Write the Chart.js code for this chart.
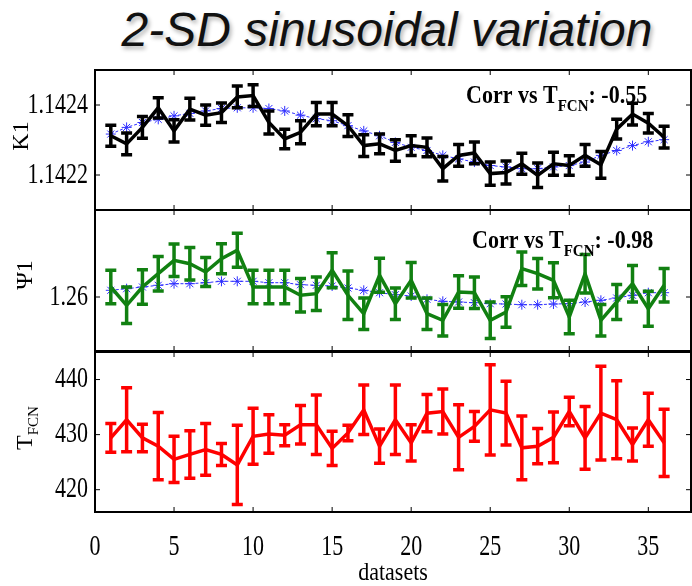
<!DOCTYPE html>
<html>
<head>
<meta charset="utf-8">
<script src="https://cdn.jsdelivr.net/npm/chart.js@4.4.1/dist/chart.umd.min.js"></script>
<style>
    body { margin: 0; background: #fff; width: 692px; height: 586px; overflow: hidden; position: relative; }
    #title {
        position: absolute; left: 0; top: 2px; width: 774px; text-align: center;
        font: italic 48px "Liberation Sans", Arial, sans-serif; color: #111;
        text-shadow: 2px 3px 4px rgba(0, 0, 0, 0.3);
    }
    .panel { position: absolute; left: 0; width: 692px; }
</style>
</head>
<body>
<div id="title">2-SD sinusoidal variation</div>
<div class="panel" style="top:60px;height:152px"><canvas id="k1Chart"></canvas></div>
<div class="panel" style="top:205px;height:150px"><canvas id="psiChart"></canvas></div>
<div class="panel" style="top:347px;height:239px"><canvas id="tfcnChart"></canvas></div>
<script>
// --- Data ---
const datasetNumbers = [1, 2, 3, 4, 5, 6, 7, 8, 9, 10, 11, 12, 13, 14, 15, 16, 17, 18,
    19, 20, 21, 22, 23, 24, 25, 26, 27, 28, 29, 30, 31, 32, 33, 34, 35, 36];
const xTicks = [0, 5, 10, 15, 20, 25, 30, 35];

const k1Values = [1.142312, 1.142289, 1.142336, 1.142392, 1.142326, 1.142388, 1.142371, 1.142378, 1.142423,
    1.142427, 1.142350, 1.142303, 1.142322, 1.142374, 1.142374, 1.142341, 1.142284, 1.142289,
    1.142270, 1.142284, 1.142279, 1.142218, 1.142256, 1.142263, 1.142204, 1.142207, 1.142232,
    1.142199, 1.142232, 1.142227, 1.142256, 1.142229, 1.142331, 1.142374, 1.142348, 1.142308];
const k1Errors = [0.000030, 0.000031, 0.000031, 0.000029, 0.000032, 0.000031, 0.000029, 0.000028, 0.000031,
    0.000031, 0.000033, 0.000028, 0.000033, 0.000033, 0.000033, 0.000031, 0.000031, 0.000028,
    0.000031, 0.000028, 0.000027, 0.000035, 0.000031, 0.000031, 0.000033, 0.000033, 0.000030,
    0.000035, 0.000033, 0.000028, 0.000031, 0.000038, 0.000028, 0.000031, 0.000028, 0.000031];
const k1Model = [1.142317, 1.142336, 1.142350, 1.142359, 1.142369, 1.142376, 1.142383, 1.142390, 1.142392,
    1.142392, 1.142390, 1.142383, 1.142371, 1.142361, 1.142355, 1.142341, 1.142326, 1.142312,
    1.142293, 1.142279, 1.142270, 1.142256, 1.142246, 1.142237, 1.142227, 1.142223, 1.142218,
    1.142218, 1.142223, 1.142227, 1.142237, 1.142256, 1.142270, 1.142284, 1.142295, 1.142301];
const k1Ticks = [1.1422, 1.1424];
const k1Corr = '-0.55';

const psiValues = [1.26100, 1.25917, 1.26100, 1.26233, 1.26367, 1.26333, 1.26250, 1.26383, 1.26467,
    1.26100, 1.26100, 1.26100, 1.26017, 1.26033, 1.26267, 1.26017, 1.25833, 1.26217,
    1.25933, 1.26167, 1.25833, 1.25767, 1.26050, 1.26043, 1.25767, 1.25850, 1.26283,
    1.26233, 1.26167, 1.25800, 1.26233, 1.25767, 1.25950, 1.26133, 1.25883, 1.26117];
const psiErrors = [0.00167, 0.00183, 0.00172, 0.00172, 0.00162, 0.00162, 0.00145, 0.00150, 0.00170,
    0.00167, 0.00167, 0.00167, 0.00167, 0.00167, 0.00175, 0.00242, 0.00158, 0.00170,
    0.00158, 0.00178, 0.00158, 0.00158, 0.00163, 0.00158, 0.00183, 0.00153, 0.00167,
    0.00153, 0.00175, 0.00167, 0.00192, 0.00158, 0.00175, 0.00183, 0.00175, 0.00167];
const psiModel = [1.26067, 1.26083, 1.26100, 1.26117, 1.26133, 1.26133, 1.26143, 1.26157, 1.26157,
    1.26157, 1.26143, 1.26143, 1.26123, 1.26117, 1.26110, 1.26090, 1.26067, 1.26043,
    1.26023, 1.26010, 1.25977, 1.25957, 1.25950, 1.25943, 1.25933, 1.25930, 1.25923,
    1.25923, 1.25930, 1.25933, 1.25950, 1.25967, 1.25990, 1.26017, 1.26043, 1.26043];
const psiTicks = [1.26];
const psiCorr = '-0.98';

const tfcnValues = [429.4, 432.7, 429.4, 427.9, 425.5, 426.4, 427.3, 426.4, 424.5,
    429.7, 430.1, 429.9, 431.8, 431.8, 427.5, 430.3, 434.5, 427.9,
    432.7, 428.5, 433.9, 434.2, 429.5, 431.5, 434.5, 433.9, 427.6,
    427.9, 429.5, 434.2, 429.4, 433.9, 432.7, 428.2, 432.7, 428.5];
const tfcnErrors = [2.6, 5.8, 2.5, 6.1, 4.2, 4.3, 4.7, 2.0, 7.2,
    5.1, 3.5, 1.9, 3.5, 5.4, 3.1, 1.4, 4.5, 3.1,
    6.3, 3.3, 3.4, 4.1, 5.9, 2.7, 8.2, 5.8, 5.8,
    3.2, 4.6, 2.6, 5.7, 8.5, 7.1, 3.0, 4.8, 6.1];
const tfcnTicks = [420, 430, 440];

const SERIF = '"Liberation Serif", "Times New Roman", serif';
const MODEL_BLUE = '#2f2fff';
const TEXT_STRETCH = 1.3;   // the exported figure has tall, narrow lettering

function toPoints(values) {
    return values.map((v, i) => ({ x: datasetNumbers[i], y: v }));
}

// text drawn a little taller than wide, like the source image
function tallText(ctx, text, x, y, size, align, sy) {
    ctx.save();
    ctx.translate(x, y);
    ctx.scale(1, sy || TEXT_STRETCH);
    ctx.font = `${size}px ${SERIF}`;
    ctx.textAlign = align;
    ctx.textBaseline = 'middle';
    ctx.fillText(text, 0, 0);
    ctx.restore();
}

// --- Plugins ---
const errorBarPlugin = {
    id: 'errorBars',
    afterDatasetsDraw(chart) {
        const { ctx, scales: { x, y } } = chart;
        chart.data.datasets.forEach(ds => {
            if (!ds.errors) return;
            ctx.save();
            ctx.strokeStyle = ds.borderColor;
            ctx.lineWidth = 3.5;
            ds.data.forEach((p, i) => {
                const px = x.getPixelForValue(p.x);
                const top = y.getPixelForValue(p.y + ds.errors[i]);
                const bot = y.getPixelForValue(p.y - ds.errors[i]);
                ctx.beginPath();
                ctx.moveTo(px, top); ctx.lineTo(px, bot);
                ctx.moveTo(px - 5.5, top); ctx.lineTo(px + 5.5, top);
                ctx.moveTo(px - 5.5, bot); ctx.lineTo(px + 5.5, bot);
                ctx.stroke();
            });
            ctx.restore();
        });
    }
};

// box round the plot with small ticks pointing inwards (matlab style) + tick labels
const framePlugin = {
    id: 'frame',
    afterDraw(chart, args, opts) {
        const { ctx, chartArea: a, scales: { x, y } } = chart;
        ctx.save();
        ctx.strokeStyle = '#000';
        ctx.fillStyle = '#000';
        ctx.lineWidth = 1;
        ctx.beginPath();
        xTicks.forEach(v => {
            const px = x.getPixelForValue(v);
            ctx.moveTo(px, a.top); ctx.lineTo(px, a.top + 5);
            ctx.moveTo(px, a.bottom); ctx.lineTo(px, a.bottom - 5);
        });
        opts.yTicks.forEach(v => {
            const py = y.getPixelForValue(v);
            ctx.moveTo(a.left, py); ctx.lineTo(a.left + 5, py);
            ctx.moveTo(a.right, py); ctx.lineTo(a.right - 5, py);
        });
        ctx.stroke();
        ctx.lineWidth = 2;
        ctx.strokeRect(a.left, a.top, a.right - a.left, a.bottom - a.top);

        opts.yTicks.forEach(v => {
            tallText(ctx, v.toFixed(opts.decimals), a.left - 7, y.getPixelForValue(v), 22, 'right');
        });
        if (opts.xLabels) {
            xTicks.forEach(v => {
                tallText(ctx, String(v), x.getPixelForValue(v), a.bottom + 35, 22, 'center');
            });
            tallText(ctx, 'datasets', (a.left + a.right) / 2, a.bottom + 61, 22, 'center', 1.15);
        }
        ctx.restore();
    }
};

function drawParts(ctx, parts, x, y) {
    // parts: [text, fontSize, baselineShift, weight]
    parts.forEach(([text, size, shift, weight]) => {
        ctx.font = `${weight || ''} ${size}px ${SERIF}`;
        ctx.fillText(text, x, y + shift);
        x += ctx.measureText(text).width;
    });
}

const labelPlugin = {
    id: 'labels',
    afterDraw(chart, args, opts) {
        const { ctx } = chart;
        ctx.save();
        ctx.fillStyle = '#000';
        ctx.textBaseline = 'alphabetic';
        // rotated y title
        ctx.save();
        ctx.translate(opts.titleX, opts.titleY);
        ctx.rotate(-Math.PI / 2);
        let w = 0;
        opts.title.forEach(([t, s]) => { ctx.font = `${s}px ${SERIF}`; w += ctx.measureText(t).width; });
        drawParts(ctx, opts.title, -w / 2, 8);
        ctx.restore();
        if (opts.corr) {
            ctx.save();
            ctx.translate(opts.corrX, opts.corrY);
            ctx.scale(1, 1.15);
            drawParts(ctx, [
                ['Corr vs T', 22, 0, 'bold'],
                ['FCN', 15, 7, 'bold'],
                [': ' + opts.corr, 22, 0, 'bold']
            ], 0, 0);
            ctx.restore();
        }
        ctx.restore();
    }
};

function makePanel(canvasId, cfg) {
    const datasets = [];
    datasets.push({
        data: toPoints(cfg.values),
        errors: cfg.errors,
        borderColor: cfg.color,
        borderWidth: 3.5,
        pointRadius: 0,
        tension: 0,
        order: 1
    });
    if (cfg.model) {
        datasets.push({
            data: toPoints(cfg.model),
            borderColor: MODEL_BLUE,
            borderWidth: 1,
            borderDash: [3, 2],
            pointStyle: 'star',
            pointRadius: 5,
            pointBorderColor: MODEL_BLUE,
            pointBorderWidth: 1,
            tension: 0,
            order: 2
        });
    }
    return new Chart(document.getElementById(canvasId), {
        type: 'line',
        data: { datasets },
        options: {
            responsive: true,
            maintainAspectRatio: false,
            animation: false,
            layout: { padding: cfg.padding, autoPadding: false },
            scales: {
                x: { type: 'linear', min: 0, max: 37.7, display: false },
                y: { min: cfg.min, max: cfg.max, display: false }
            },
            plugins: {
                legend: { display: false },
                tooltip: { enabled: false },
                frame: { yTicks: cfg.ticks, decimals: cfg.decimals, xLabels: cfg.showX },
                labels: cfg.labels
            }
        },
        plugins: [errorBarPlugin, framePlugin, labelPlugin]
    });
}

document.addEventListener('DOMContentLoaded', () => {
    makePanel('k1Chart', {
        values: k1Values, errors: k1Errors, model: k1Model, color: '#000',
        min: 1.1421, max: 1.1425, ticks: k1Ticks, decimals: 4, showX: false,
        padding: { top: 10, bottom: 2, left: 95, right: 1 },
        labels: { title: [['K1', 24, 0]], titleX: 20, titleY: 76, corr: k1Corr, corrX: 466, corrY: 43 }
    });
    makePanel('psiChart', {
        values: psiValues, errors: psiErrors, model: psiModel, color: '#118011',
        min: 1.2546, max: 1.2687, ticks: psiTicks, decimals: 2, showX: false,
        padding: { top: 5, bottom: 4, left: 95, right: 1 },
        labels: { title: [['\u03A81', 24, 0]], titleX: 24, titleY: 70, corr: psiCorr, corrX: 472, corrY: 43 }
    });
    makePanel('tfcnChart', {
        values: tfcnValues, errors: tfcnErrors, color: '#ff0000',
        min: 415.95, max: 445.0, ticks: tfcnTicks, decimals: 0, showX: true,
        padding: { top: 5, bottom: 74, left: 95, right: 1 },
        labels: { title: [['T', 24, 0], ['FCN', 15, 6]], titleX: 24, titleY: 81 }
    });
});
</script>
</body>
</html>
